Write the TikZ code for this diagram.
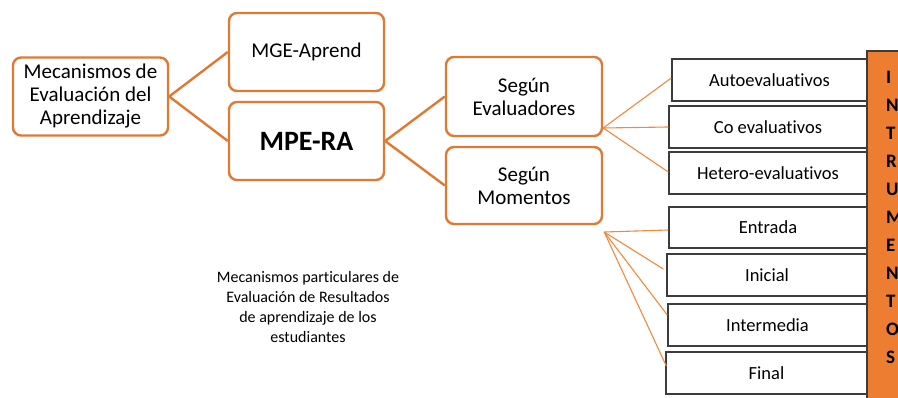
\documentclass[tikz,border=0pt]{standalone}
\usepackage{fontspec}
\setmainfont{Carlito}[Ligatures={TeX,NoCommon}]
\usetikzlibrary{calc}
\definecolor{org}{RGB}{222,122,52}
\definecolor{orgfill}{RGB}{237,125,49}
\definecolor{lorg}{RGB}{240,138,62}
\definecolor{dgray}{RGB}{60,60,60}
\begin{document}
\begin{tikzpicture}[x=1pt,y=-1pt,
  rbox/.style={draw=org,line width=2.4pt,rounded corners=8pt,fill=white,align=center,
    inner sep=2pt,font=\fontsize{21}{23}\selectfont},
  sbox/.style={draw=dgray,line width=1.4pt,fill=white,align=center,inner sep=1pt,
    font=\fontsize{18.5}{21}\selectfont},
  thick conn/.style={draw=org,line width=2.4pt},
  thin conn/.style={draw=lorg,line width=1.1pt},
  barletter/.style={anchor=west,inner sep=0pt,font=\fontsize{19}{21}\selectfont\bfseries}]
\useasboundingbox (0,0) rectangle (898,398);
\fill[white] (0,0) rectangle (898,398);
% orange bar
\draw[draw=dgray,line width=1.6pt,fill=orgfill] (867,51) rectangle (910,405);
% main boxes
\node[rbox,minimum width=155pt,minimum height=78pt] (mec) at (90.5,96.5) {Mecanismos de\\Evaluación del\\Aprendizaje};
\node[rbox,minimum width=155pt,minimum height=78pt] (mge) at (306.5,52) {MGE-Aprend};
\node[rbox,minimum width=155pt,minimum height=78pt,font=\fontsize{28}{32}\selectfont\bfseries] (mpe) at (306.5,141) {MPE-RA};
\node[rbox,minimum width=156pt,minimum height=79pt] (seval) at (524,96.5) {Según\\Evaluadores};
\node[rbox,minimum width=156pt,minimum height=77pt] (smom) at (524,185.5) {Según\\Momentos};
% small boxes
\node[sbox,minimum width=195pt,minimum height=42pt] (auto) at (769.5,80) {Autoevaluativos};
\node[sbox,minimum width=198pt,minimum height=42pt] (co) at (768,127) {Co evaluativos};
\node[sbox,minimum width=198pt,minimum height=42pt] (het) at (768,173) {Hetero-evaluativos};
\node[sbox,minimum width=198pt,minimum height=41pt] (ent) at (768,227.5) {Entrada};
\node[sbox,minimum width=200pt,minimum height=42pt] (ini) at (767,275) {Inicial};
\node[sbox,minimum width=199pt,minimum height=42pt] (inter) at (767.5,325) {Intermedia};
\node[sbox,minimum width=201pt,minimum height=42pt] (fin) at (766.5,373) {Final};
% bar letters
\foreach \l/\yy [count=\i] in {I/77,N/105,T/133,R/161,U/189,M/217,E/245,N/273,T/301,O/329,S/357}
  \node[barletter] (bl\i) at (886,\yy) {\l};
% free text
\node[align=center,inner sep=0pt,font=\fontsize{16}{20}\selectfont] (note) at (308,307) {Mecanismos particulares de\\Evaluación de Resultados\\de aprendizaje de los\\estudiantes};
% connectors
\draw[thick conn] (mge.west) -- (mec.east) -- (mpe.west);
\draw[thick conn] (seval.west) -- (mpe.east) -- (smom.west);
\coordinate (sefan) at ($(seval.east)+(0,31.5)$);
\coordinate (smfan) at ($(smom.east)+(1,46.5)$);
\draw[thin conn] (sefan) -- ($(auto.west)+(0,-2)$);
\draw[thin conn] (sefan) -- (co.west);
\draw[thin conn] (sefan) -- ($(het.west)+(0,-1)$);
\draw[thin conn] (smfan) -- ($(ent.west)+(0,2.5)$);
\draw[thin conn] (smfan) -- ($(ini.west)+(-3,-6)$);
\draw[thin conn] (smfan) -- ($(inter.west)+(0,-10)$);
\draw[thin conn] (smfan) -- ($(fin.west)+(1,-7)$);
\end{tikzpicture}
\end{document}
